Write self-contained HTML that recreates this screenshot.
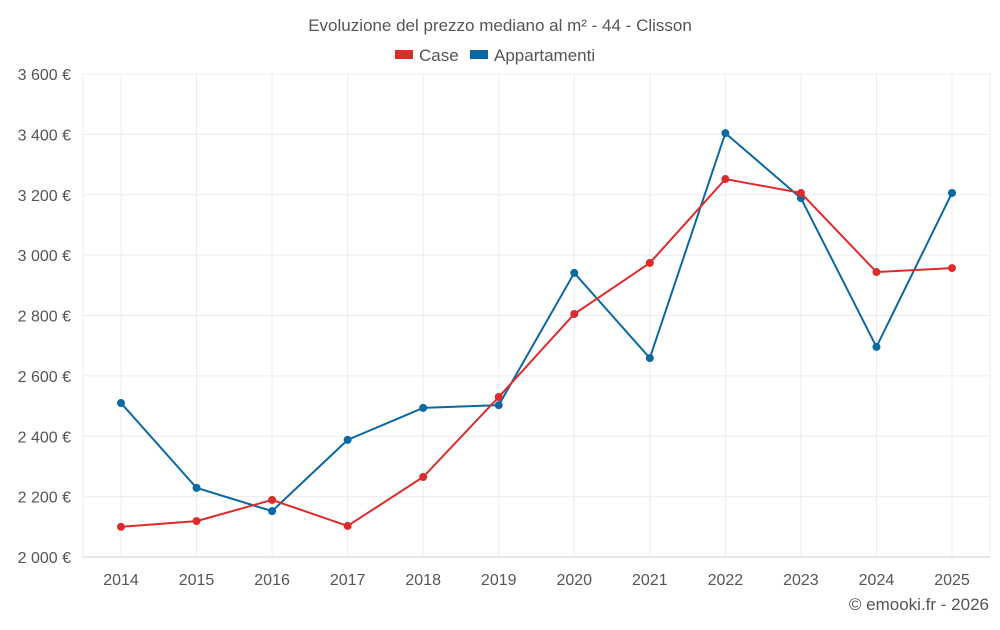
<!DOCTYPE html>
<html><head><meta charset="utf-8"><style>
body{margin:0;background:#fff;font-family:"Liberation Sans",sans-serif;}
svg text{font-family:"Liberation Sans",sans-serif;fill:#555;}
</style></head><body>
<svg id="chart" width="1000" height="625" xmlns="http://www.w3.org/2000/svg">
<text x="500" y="31" text-anchor="middle" font-size="17">Evoluzione del prezzo mediano al m² - 44 - Clisson</text>
<g>
<g><rect x="395" y="50" width="18" height="9" fill="#dd2a2a"/><text x="419" y="61" font-size="17">Case</text></g>
<g><rect x="470" y="50" width="18" height="9" fill="#0a68a2"/><text x="494" y="61" font-size="17">Appartamenti</text></g>
</g>
<g id="grid"></g><g id="axes"></g><g id="series"></g>
<text x="989" y="610" text-anchor="end" font-size="17">© emooki.fr - 2026</text>
</svg>
<script>
const years=[2014,2015,2016,2017,2018,2019,2020,2021,2022,2023,2024,2025];
const caseValues=[2100,2119,2189,2103,2265,2530,2805,2974,3252,3206,2944,2957];
const apptValues=[2510,2229,2152,2388,2494,2503,2941,2659,3404,3189,2696,3206];
const yTicks=[2000,2200,2400,2600,2800,3000,3200,3400,3600];
const yTickLabels=["2 000 €","2 200 €","2 400 €","2 600 €","2 800 €","3 000 €","3 200 €","3 400 €","3 600 €"];
const NS="http://www.w3.org/2000/svg";
const L=83,R=990,T=74,B=557,yMin=2000,yMax=3600;
const x=i=>121+i*(952-121)/(years.length-1);
const y=v=>B-(v-yMin)/(yMax-yMin)*(B-T);
function mk(tag,attrs,parent){const e=document.createElementNS(NS,tag);for(const k in attrs)e.setAttribute(k,attrs[k]);parent.appendChild(e);return e;}
const grid=document.getElementById('grid'),axes=document.getElementById('axes'),series=document.getElementById('series');
yTicks.forEach((t,i)=>{
 const g=mk('line',{x1:L,x2:R,y1:y(t),y2:y(t),stroke:i==0?'#ccc':'#ececec','stroke-width':1},grid);
 
 
 const tx=mk('text',{x:71,y:y(t)+6,'text-anchor':'end','font-size':16},axes);tx.textContent=yTickLabels[i];
 
 
});
years.forEach((yr,i)=>{
 const g=mk('line',{x1:x(i),x2:x(i),y1:T,y2:B,stroke:'#ececec','stroke-width':1},grid);
 
 
 const tx=mk('text',{x:x(i),y:585,'text-anchor':'middle','font-size':16},axes);tx.textContent=yr;
 
 
});
mk('line',{x1:L,x2:L,y1:T,y2:B,stroke:'#ececec'},grid);
mk('line',{x1:R,x2:R,y1:T,y2:B,stroke:'#ececec'},grid);
function draw(vals,color,name){
 const p=mk('polyline',{points:vals.map((v,i)=>x(i)+','+y(v)).join(' '),fill:'none',stroke:color,'stroke-width':2},series);
 
 
 vals.forEach((v,i)=>{const c=mk('circle',{cx:x(i),cy:y(v),r:4,fill:color},series);
 
 });
}
draw(apptValues,'#0a68a2','appartamenti');
draw(caseValues,'#dd2a2a','case');
</script>
</body></html>
